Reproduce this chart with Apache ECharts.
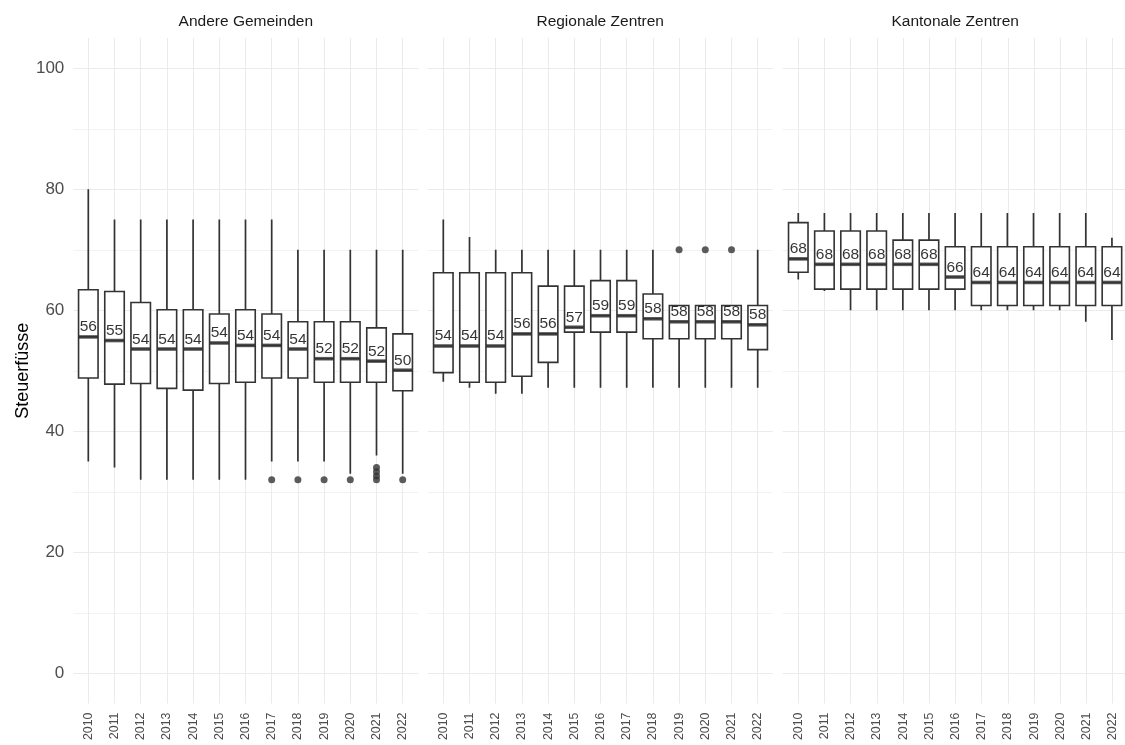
<!DOCTYPE html>
<html>
<head>
<meta charset="utf-8">
<script src="https://cdn.jsdelivr.net/npm/echarts@6/dist/echarts.min.js"></script>
<style>
html,body{margin:0;padding:0;background:#fff;}
#chart{width:1125px;height:745px;}
</style>
</head>
<body>
<div id="chart"></div>
<script>
// ---------- data ----------
const years = ['2010','2011','2012','2013','2014','2015','2016','2017','2018','2019','2020','2021','2022'];
const panelTitles = ['Andere Gemeinden','Regionale Zentren','Kantonale Zentren'];
const yTicks = [0, 20, 40, 60, 80, 100];

// Andere Gemeinden
const agMin = [35, 34, 32, 32, 32, 32, 32, 35, 35, 35, 33, 36, 33];
const agQ1  = [48.8, 47.8, 47.9, 47.1, 46.8, 47.9, 48.1, 48.8, 48.8, 48.1, 48.1, 48.1, 46.7];
const agMed = [55.6, 55.0, 53.6, 53.6, 53.6, 54.6, 54.2, 54.2, 53.6, 52.0, 52.0, 51.6, 50.1];
const agQ3  = [63.4, 63.1, 61.3, 60.1, 60.1, 59.4, 60.1, 59.4, 58.1, 58.1, 58.1, 57.1, 56.1];
const agMax = [80, 75, 75, 75, 75, 75, 75, 75, 70, 70, 70, 70, 70];
const agLabels = ['56','55','54','54','54','54','54','54','54','52','52','52','50'];
const agOutliers = [['2017',32],['2018',32],['2019',32],['2020',32],['2021',34],['2021',33.3],['2021',32.6],['2021',32],['2022',32]];

// Regionale Zentren
const rzMin = [48.2, 47.2, 46.2, 46.2, 47.2, 47.2, 47.2, 47.2, 47.2, 47.2, 47.2, 47.2, 47.2];
const rzQ1  = [49.7, 48.1, 48.1, 49.1, 51.4, 56.4, 56.4, 56.4, 55.3, 55.3, 55.3, 55.3, 53.5];
const rzMed = [54.1, 54.1, 54.1, 56.1, 56.1, 57.2, 59.1, 59.1, 58.6, 58.1, 58.1, 58.1, 57.6];
const rzQ3  = [66.2, 66.2, 66.2, 66.2, 64.0, 64.0, 64.9, 64.9, 62.7, 60.8, 60.8, 60.8, 60.8];
const rzMax = [75, 72.1, 70, 70, 70, 70, 70, 70, 70, 60.8, 60.8, 60.8, 70];
const rzLabels = ['54','54','54','56','56','57','59','59','58','58','58','58','58'];
const rzOutliers = [['2019',70],['2020',70],['2021',70]];

// Kantonale Zentren
const kzMin = [65.1, 63.2, 60, 60, 60, 60, 60, 60, 60, 60, 60, 58.1, 55.1];
const kzQ1  = [66.3, 63.5, 63.5, 63.5, 63.5, 63.5, 63.5, 60.8, 60.8, 60.8, 60.8, 60.8, 60.8];
const kzMed = [68.5, 67.6, 67.6, 67.6, 67.6, 67.6, 65.5, 64.6, 64.6, 64.6, 64.6, 64.6, 64.6];
const kzQ3  = [74.5, 73.1, 73.1, 73.1, 71.6, 71.6, 70.5, 70.5, 70.5, 70.5, 70.5, 70.5, 70.5];
const kzMax = [76.1, 76.1, 76.1, 76.1, 76.1, 76.1, 76.1, 76.1, 76.1, 76.1, 76.1, 76.1, 72.0];
const kzLabels = ['68','68','68','68','68','68','66','64','64','64','64','64','64'];
const kzOutliers = [];

// ---------- build ----------
const panels = [
  {min: agMin, q1: agQ1, med: agMed, q3: agQ3, max: agMax, labels: agLabels, out: agOutliers},
  {min: rzMin, q1: rzQ1, med: rzMed, q3: rzQ3, max: rzMax, labels: rzLabels, out: rzOutliers},
  {min: kzMin, q1: kzQ1, med: kzMed, q3: kzQ3, max: kzMax, labels: kzLabels, out: kzOutliers}
];

const FONT = "'Liberation Sans', Arial, sans-serif";
const band = 26.2;
const firstCenters = [88.3, 443.3, 798.3];
const panelLeft = [73.3, 427.7, 782.7];
const panelW = 345;
const TOP = 68.3, BOTTOM = 745 - 673.3;
const VTOP = 38, VBOTTOM = 745 - 703.5;

const grid = [], xAxis = [], yAxis = [], series = [], graphic = [];

function mainGrid(pi) {
  const g = grid.length;
  grid.push({left: firstCenters[pi] - band / 2, width: band * 13, top: TOP, bottom: BOTTOM});
  xAxis.push({gridIndex: g, type: 'category', data: years, boundaryGap: true, show: false});
  yAxis.push({gridIndex: g, type: 'value', min: 0, max: 100, show: false});
  return g;
}

panels.forEach((p, pi) => {
  const g0 = grid.length;
  // horizontal gridlines
  grid.push({left: panelLeft[pi], width: panelW, top: TOP, bottom: BOTTOM});
  xAxis.push({gridIndex: g0, type: 'value', min: 0, max: 1, show: false});
  yAxis.push({
    gridIndex: g0, type: 'value', min: 0, max: 100, interval: 10,
    axisLine: {show: false}, axisTick: {show: false},
    splitLine: {show: true, lineStyle: {color: ['#ebebeb', '#f3f3f3'], width: 1}},
    axisLabel: {
      show: pi === 0, color: '#4d4d4d', fontSize: 17, fontFamily: FONT, margin: 9,
      formatter: v => (yTicks.indexOf(v) >= 0 ? String(v) : '')
    },
    name: pi === 0 ? 'Steuerfüsse' : '',
    nameLocation: 'middle', nameRotate: 90, nameGap: 35,
    nameTextStyle: {color: '#000', fontSize: 18, fontFamily: FONT}
  });
  // vertical gridlines + x labels
  const g1 = grid.length;
  grid.push({left: firstCenters[pi], width: band * 12, top: VTOP, bottom: VBOTTOM});
  xAxis.push({
    gridIndex: g1, type: 'category', data: years, boundaryGap: false,
    axisLine: {show: false}, axisTick: {show: false},
    splitLine: {show: true, interval: 0, lineStyle: {color: '#ebebeb', width: 1}},
    axisLabel: {interval: 0, rotate: 90, color: '#4d4d4d', fontSize: 12.4, fontFamily: FONT, margin: 9}
  });
  yAxis.push({gridIndex: g1, type: 'value', min: 0, max: 1, show: false});

  // whisker grid and box grid (separate so boxplots are not placed side by side)
  const gw = mainGrid(pi);
  const gb = mainGrid(pi);

  // whiskers (zero-width boxplot)
  series.push({
    type: 'boxplot', xAxisIndex: gw, yAxisIndex: gw, boxWidth: [0, 0], z: 2,
    silent: true,
    itemStyle: {color: 'rgba(0,0,0,0)', borderColor: '#333333', borderWidth: 1.7},
    data: years.map((y, i) => [p.min[i], p.q1[i], p.med[i], p.q3[i], p.max[i]])
  });
  // boxes
  series.push({
    type: 'boxplot', xAxisIndex: gb, yAxisIndex: gb, boxWidth: [19.5, 19.5], z: 3,
    silent: true,
    itemStyle: {color: '#ffffff', borderColor: '#333333', borderWidth: 1.6},
    data: years.map((y, i) => [p.q1[i], p.q1[i], p.med[i], p.q3[i], p.q3[i]])
  });
  // thick median + labels
  series.push({
    type: 'scatter', xAxisIndex: gb, yAxisIndex: gb, z: 4, silent: true,
    symbol: 'rect', symbolSize: [19.5, 3.6],
    itemStyle: {color: '#333333'},
    label: {
      show: true, position: 'top', distance: 0,
      color: '#000', fontSize: 15.5, fontFamily: FONT,
      formatter: prm => p.labels[prm.dataIndex]
    },
    data: years.map((y, i) => [y, p.med[i]])
  });
  // outliers
  series.push({
    type: 'scatter', xAxisIndex: gb, yAxisIndex: gb, z: 4, silent: true,
    symbol: 'circle', symbolSize: 7,
    itemStyle: {color: '#333333'},
    data: p.out.map(o => [o[0], o[1]])
  });

  graphic.push({
    type: 'text', x: panelLeft[pi] + panelW / 2, y: 22,
    style: {text: panelTitles[pi], font: '15.5px ' + FONT, fill: '#1a1a1a',
            textAlign: 'center', textVerticalAlign: 'middle'}
  });
});

const chart = echarts.init(document.getElementById('chart'), null, {renderer: 'canvas'});
chart.setOption({
  animation: false,
  backgroundColor: '#ffffff',
  grid, xAxis, yAxis, series, graphic
});
</script>
</body>
</html>
